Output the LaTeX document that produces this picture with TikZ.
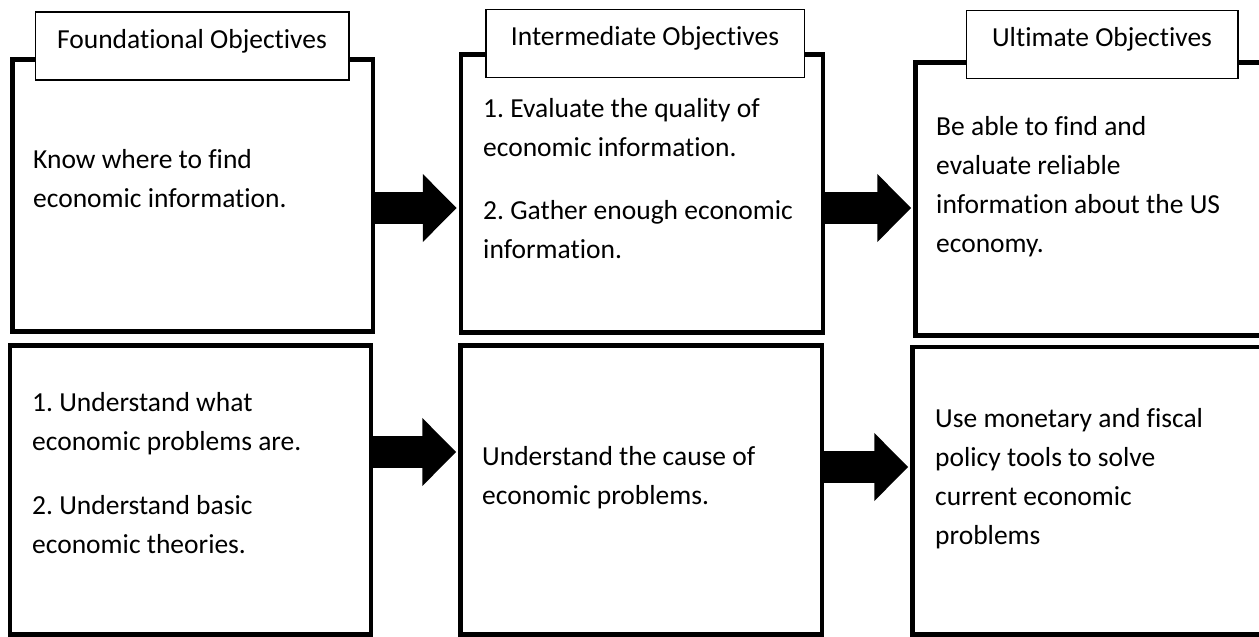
\documentclass[tikz,border=0pt]{standalone}
\usepackage{fontspec}
\setmainfont{Carlito}[Ligatures=CommonOff]
\frenchspacing
\usetikzlibrary{arrows.meta}

\begin{document}
\begin{tikzpicture}[x=1pt,y=-1pt,
	objbox/.style={draw, line width=4.5pt, inner sep=0pt},
	headbox/.style={draw, fill=white, line width=1.5pt, inner xsep=0pt, inner ysep=0pt, text height=36pt, text depth=32pt, font=\fontsize{27.5}{39}\selectfont},
	txt/.style={anchor=base west, align=left, inner sep=0pt, font=\fontsize{27.5}{39}\selectfont},
	bigarrow/.style={line width=32pt, -{Triangle[length=34pt,width=66pt]}, shorten >=2pt}]
				
				\clip (0,0) rectangle (1259,637);
				
				% top row
				\node[objbox, minimum width=360.5pt, minimum height=272pt] (boxFound) at (192.75,195.5) {};
				\node[objbox, minimum width=362pt, minimum height=278pt] (boxInter) at (642,193.5) {};
				\node[objbox, minimum width=359.5pt, minimum height=273pt] (boxUlt) at (1095.25,199) {};
				
				\node[headbox, minimum width=313.5pt, anchor=north west] (lblFound) at (34.5,11.3) {Foundational Objectives};
				\node[headbox, minimum width=318.5pt, anchor=north west] (lblInter) at (485,8.7) {Intermediate Objectives};
				\node[headbox, minimum width=271.5pt, anchor=north west] (lblUlt) at (965.5,9.5) {Ultimate Objectives};
				
				% base = last line
				\node[txt] (FindInfo) at (33,207) {Know where to find\\economic information.};
				\node[txt] (EvalInfo) at (483,258) {1. Evaluate the quality of\\economic information.\\[24pt]2. Gather enough economic\\information.};
				\node[txt] (UseInfo) at (936,252) {Be able to find and\\evaluate reliable\\information about the US\\economy.};
				
				% bottom row
				\node[objbox, minimum width=361pt, minimum height=289pt] (boxFoundB) at (190.5,490) {};
				\node[objbox, minimum width=361.5pt, minimum height=289pt] (boxInterB) at (641.25,490) {};
				\node[objbox, minimum width=362.5pt, minimum height=287.5pt] (boxUltB) at (1093.75,490.75) {};
				
				\node[txt] (KnowProb) at (32,553) {1. Understand what\\economic problems are.\\[25pt]2. Understand basic\\economic theories.};
				\node[txt] (CauseProb) at (482,504) {Understand the cause of\\economic problems.};
				\node[txt] (SolveProb) at (935,544) {Use monetary and fiscal\\policy tools to solve\\current economic\\problems};
				
				\draw[bigarrow] (boxFound.east |- 0,208) -- (boxInter.west |- 0,208);
				\draw[bigarrow] (boxInter.east |- 0,208) -- (boxUlt.west |- 0,208);
				\draw[bigarrow] (boxFoundB.east |- 0,452) -- (boxInterB.west |- 0,452);
				\draw[bigarrow] (boxInterB.east |- 0,467) -- (boxUltB.west |- 0,467);
				
			\end{tikzpicture}
\end{document}
